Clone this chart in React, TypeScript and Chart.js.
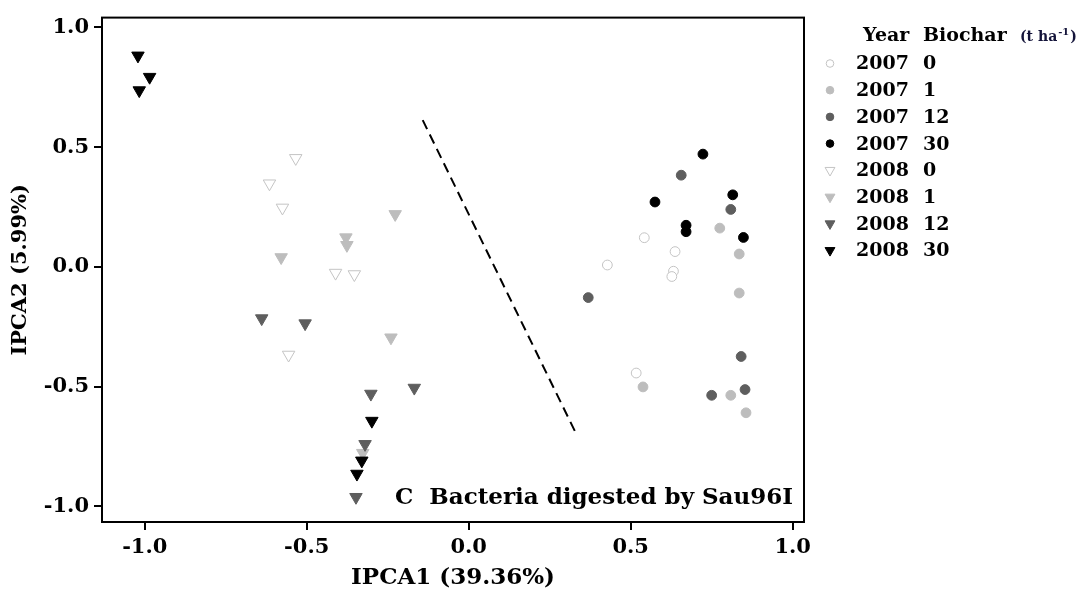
import React, { useEffect, useRef } from "react";
import { Chart, registerables } from "chart.js";

Chart.register(...registerables);

// ---- Data ----
const X_TICKS = [-1.0, -0.5, 0.0, 0.5, 1.0];
const Y_TICKS = [-1.0, -0.5, 0.0, 0.5, 1.0];
const X_MIN = -1.132;
const X_MAX = 1.035;
const Y_MIN = -1.065;
const Y_MAX = 1.041;

const X_TITLE = "IPCA1 (39.36%)";
const Y_TITLE = "IPCA2 (5.99%)";
const PANEL_LABEL = "C  Bacteria digested by Sau96I";

const LEGEND_YEARS = ["2007", "2007", "2007", "2007", "2008", "2008", "2008", "2008"];
const LEGEND_BIOCHAR = ["0", "1", "12", "30", "0", "1", "12", "30"];

const Y2007_B0: [number, number][] = [
  [0.542, 0.122], [0.637, 0.064], [0.428, 0.008], [0.632, -0.018], [0.627, -0.04], [0.517, -0.443],
];
const Y2007_B1: [number, number][] = [
  [0.775, 0.162], [0.835, 0.054], [0.835, -0.109], [0.538, -0.501], [0.809, -0.536], [0.856, -0.609],
];
const Y2007_B12: [number, number][] = [
  [0.656, 0.383], [0.809, 0.24], [0.369, -0.128], [0.841, -0.374], [0.853, -0.512], [0.75, -0.536],
];
const Y2007_B30: [number, number][] = [
  [0.723, 0.471], [0.575, 0.271], [0.815, 0.301], [0.671, 0.174], [0.671, 0.147], [0.848, 0.123],
];
const Y2008_B0: [number, number][] = [
  [-0.534, 0.454], [-0.615, 0.348], [-0.575, 0.247], [-0.411, -0.025], [-0.353, -0.031], [-0.556, -0.367],
];
const Y2008_B1: [number, number][] = [
  [-0.227, 0.22], [-0.379, 0.123], [-0.376, 0.091], [-0.579, 0.04], [-0.24, -0.295], [-0.327, -0.777],
];
const Y2008_B12: [number, number][] = [
  [-0.639, -0.215], [-0.505, -0.236], [-0.302, -0.53], [-0.168, -0.505], [-0.32, -0.74], [-0.348, -0.961],
];
const Y2008_B30: [number, number][] = [
  [-1.021, 0.882], [-0.985, 0.793], [-1.017, 0.737], [-0.299, -0.643], [-0.33, -0.809], [-0.345, -0.864],
];
const DIVIDER: [number, number][] = [
  [-0.142, 0.613], [0.334, -0.703],
];

const SERIES = [Y2007_B0, Y2007_B1, Y2007_B12, Y2007_B30, Y2008_B0, Y2008_B1, Y2008_B12, Y2008_B30];

// ---- Styles ----
const LIGHT = "#bdbdbd";
const HOLLOW = "#c4c4c4";
const DARK = "#5e5e5e";
const BLACK = "#000000";

type Sty = { shape: "circle" | "triangle"; fill: string; stroke: string };
const STYLES: Sty[] = [
  { shape: "circle", fill: "#ffffff", stroke: HOLLOW },
  { shape: "circle", fill: LIGHT, stroke: LIGHT },
  { shape: "circle", fill: DARK, stroke: DARK },
  { shape: "circle", fill: BLACK, stroke: BLACK },
  { shape: "triangle", fill: "#ffffff", stroke: HOLLOW },
  { shape: "triangle", fill: LIGHT, stroke: LIGHT },
  { shape: "triangle", fill: DARK, stroke: DARK },
  { shape: "triangle", fill: BLACK, stroke: BLACK },
];

const SERIF = '"DejaVu Serif", serif';

function drawSymbol(ctx: CanvasRenderingContext2D, s: Sty, x: number, y: number, scale: number) {
  ctx.beginPath();
  if (s.shape === "circle") {
    ctx.arc(x, y, 4 * scale, 0, Math.PI * 2);
  } else {
    const r = 6 * scale;
    ctx.moveTo(x - r * 0.866, y - r * 0.5);
    ctx.lineTo(x + r * 0.866, y - r * 0.5);
    ctx.lineTo(x, y + r);
    ctx.closePath();
  }
  ctx.fillStyle = s.fill;
  ctx.fill();
  ctx.lineWidth = 1;
  ctx.strokeStyle = s.stroke;
  ctx.stroke();
}

const decorPlugin = {
  id: "decor",
  afterDatasetsDraw(chart: any) {
    const ctx: CanvasRenderingContext2D = chart.ctx;
    const a = chart.chartArea;
    ctx.save();
    // frame
    ctx.lineWidth = 2;
    ctx.strokeStyle = "#000";
    ctx.strokeRect(a.left, a.top, a.right - a.left, a.bottom - a.top);
    // panel label
    ctx.fillStyle = "#000";
    ctx.font = `bold 23px ${SERIF}`;
    ctx.textAlign = "right";
    ctx.textBaseline = "middle";
    ctx.fillText(PANEL_LABEL, a.right - 11, a.bottom - 24);
    // legend
    ctx.textAlign = "left";
    ctx.font = `bold 19px ${SERIF}`;
    ctx.fillText("Year", 863, 36);
    ctx.fillText("Biochar", 923, 36);
    ctx.font = `bold 14px ${SERIF}`;
    ctx.fillStyle = "#14143a";
    let hx = 1020;
    ctx.fillText("(t ha", hx, 37);
    hx += ctx.measureText("(t ha").width;
    ctx.font = `bold 10px ${SERIF}`;
    ctx.fillText("-1", hx + 1, 32);
    hx += ctx.measureText("-1").width + 2;
    ctx.font = `bold 14px ${SERIF}`;
    ctx.fillText(")", hx, 37);
    ctx.fillStyle = "#000";
    ctx.font = `bold 19px ${SERIF}`;
    for (let i = 0; i < LEGEND_YEARS.length; i++) {
      const y = 63.5 + i * 26.7;
      drawSymbol(ctx, STYLES[i], 830, y, 0.95);
      ctx.fillStyle = "#000";
      ctx.fillText(LEGEND_YEARS[i], 856, y + 1);
      ctx.fillText(LEGEND_BIOCHAR[i], 923, y + 1);
    }
    ctx.restore();
  },
};

export default function App() {
  const ref = useRef<HTMLCanvasElement | null>(null);

  useEffect(() => {
    document.body.style.margin = "0";
    document.body.style.overflow = "hidden";
    const canvas = ref.current;
    if (!canvas) return;

    const datasets: any[] = SERIES.map((pts, i) => {
      const s = STYLES[i];
      return {
        type: "scatter",
        label: `${LEGEND_YEARS[i]} ${LEGEND_BIOCHAR[i]}`,
        data: pts.map(([x, y]) => ({ x, y })),
        pointStyle: s.shape,
        rotation: s.shape === "triangle" ? 180 : 0,
        pointRadius: s.shape === "triangle" ? 7.2 : 4.9,
        pointBackgroundColor: s.fill,
        pointBorderColor: s.stroke,
        backgroundColor: s.fill,
        borderColor: s.stroke,
        pointBorderWidth: 1,
        showLine: false,
        order: 8 - i,
      };
    });
    datasets.push({
      type: "line",
      label: "divider",
      data: DIVIDER.map(([x, y]) => ({ x, y })),
      borderColor: "#000",
      borderWidth: 2,
      borderDash: [10, 6],
      pointRadius: 0,
      fill: false,
      order: 0,
    });

    const chart = new Chart(canvas, {
      type: "scatter",
      data: { datasets },
      options: {
        animation: false,
        responsive: false,
        maintainAspectRatio: false,
        layout: { padding: { left: 8, top: 10, right: 277, bottom: 4 } },
        plugins: { legend: { display: false }, tooltip: { enabled: false } },
        scales: {
          x: {
            type: "linear",
            min: X_MIN,
            max: X_MAX,
            afterBuildTicks: (s: any) => { s.ticks = X_TICKS.map((v) => ({ value: v })); },
            afterFit: (s: any) => { s.height = 70; },
            grid: { drawOnChartArea: false, drawTicks: true, tickLength: 8, color: "#000", lineWidth: 2 },
            border: { display: true, color: "#000", width: 2 },
            ticks: {
              color: "#000",
              font: { family: SERIF, size: 21, weight: "bold" },
              padding: 5,
              maxRotation: 0,
              callback: (v: any) => Number(v).toFixed(1),
            },
            title: {
              display: true,
              text: X_TITLE,
              color: "#000",
              font: { family: SERIF, size: 23, weight: "bold" },
              padding: { top: 0, bottom: 0 },
            },
          },
          y: {
            type: "linear",
            min: Y_MIN,
            max: Y_MAX,
            afterBuildTicks: (s: any) => { s.ticks = Y_TICKS.map((v) => ({ value: v })); },
            afterFit: (s: any) => { s.width = 94; },
            grid: { drawOnChartArea: false, drawTicks: true, tickLength: 8, color: "#000", lineWidth: 2 },
            border: { display: true, color: "#000", width: 2 },
            ticks: {
              color: "#000",
              font: { family: SERIF, size: 21, weight: "bold" },
              padding: 5,
              callback: (v: any) => Number(v).toFixed(1),
            },
            title: {
              display: true,
              text: Y_TITLE,
              color: "#000",
              font: { family: SERIF, size: 21, weight: "bold" },
              padding: { top: 0, bottom: 0 },
            },
          },
        },
      },
      plugins: [decorPlugin],
    });
    return () => chart.destroy();
  }, []);

  return (
    <div style={{ width: 1081, height: 596, background: "#fff" }}>
      <canvas ref={ref} width={1081} height={596} style={{ display: "block" }} />
    </div>
  );
}
